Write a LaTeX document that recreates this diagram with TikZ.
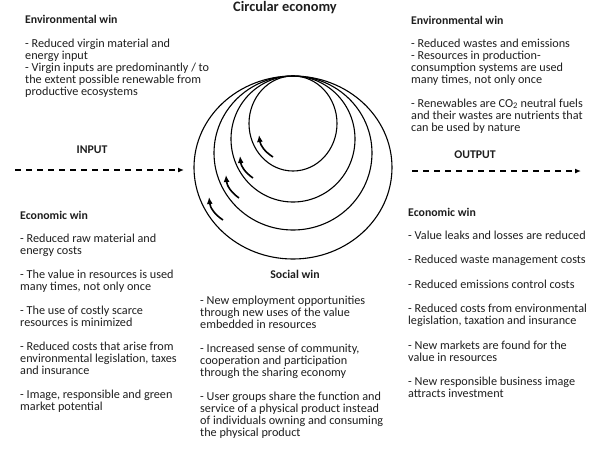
\documentclass[tikz,border=0pt]{standalone}
\usepackage{fontspec}
\setmainfont{Carlito}
\usetikzlibrary{arrows.meta,shapes.geometric}
\definecolor{inkgray}{RGB}{30,30,30}
\tikzset{
  wintitle/.style={font=\fontsize{11.8}{12}\selectfont\bfseries, anchor=west, inner sep=0pt, text=inkgray},
  wintext/.style={font=\fontsize{12.2}{12}\selectfont, anchor=north west, align=left, inner sep=0pt, text=inkgray},
  ring/.style={draw, ellipse, line width=1.1pt, inner sep=0pt},
  flow/.style={dash pattern=on 6pt off 5pt, line width=1.2pt, -{Latex[length=6pt,width=5pt]}},
  spin/.style={line width=1.6pt, -{Latex[length=7pt,width=6pt]}}
}

\begin{document}
\begin{tikzpicture}[x=1pt,y=1pt]
  \useasboundingbox (0,0) rectangle (608,-456);

  % Title
  \node[font=\fontsize{14.4}{16}\selectfont\bfseries, text=inkgray, inner sep=0pt] (title) at (285,-8) {Circular economy};

  % Rings
  \node[ring, minimum width=198, minimum height=183] (ring4) at (293,-167.5) {};
  \node[ring, minimum width=158, minimum height=154] (ring3) at (293,-153) {};
  \node[ring, minimum width=124, minimum height=126] (ring2) at (293,-139) {};
  \node[ring, minimum width=88, minimum height=95] (ring1) at (293,-123.5) {};

  % Small arrows inside the rings
  \draw[spin] (273,-157) to[bend left=25] (259,-135);
  \draw[spin] (253,-178) to[bend left=25] (240,-156);
  \draw[spin] (239,-198) to[bend left=25] (226,-175);
  \draw[spin] (223,-220) to[bend left=25] (209,-197);

  % Input
  \node[wintitle, anchor=center] (input) at (92,-150) {INPUT};
  \coordinate (inS) at (15,-170);
  \coordinate (inE) at (184,-170);
  \draw[flow] (inS) -- (inE);

  % Output
  \node[wintitle, anchor=center] (output) at (475,-155) {OUTPUT};
  \coordinate (outS) at (412,-171);
  \coordinate (outE) at (581,-171);
  \draw[flow] (outS) -- (outE);

  % Environmental win, left
  \node[wintitle] (envL) at (25,-19) {Environmental win};
  \node[wintext] (envLtext) at (25,-38.5) {- Reduced virgin material and\\
    energy input\\
    - Virgin inputs are predominantly / to\\
    the extent possible renewable from\\
    productive ecosystems};

  % Environmental win, right
  \node[wintitle] (envR) at (411,-20) {Environmental win};
  \node[wintext] (envRtext) at (411,-38.5) {- Reduced wastes and emissions\\
    - Resources in production-\\
    consumption systems are used\\
    many times, not only once\\[12pt]
    - Renewables are CO\textsubscript{2} neutral fuels\\
    and their wastes are nutrients that\\
    can be used by nature};

  % Economic win, left
  \node[wintitle] (ecoL) at (20,-215) {Economic win};
  \node[wintext] (ecoLtext) at (20,-233.5) {- Reduced raw material and\\
    energy costs\\[12pt]
    - The value in resources is used\\
    many times, not only once\\[12pt]
    - The use of costly scarce\\
    resources is minimized\\[12pt]
    - Reduced costs that arise from\\
    environmental legislation, taxes\\
    and insurance\\[12pt]
    - Image, responsible and green\\
    market potential};

  % Economic win, right
  \node[wintitle] (ecoR) at (408,-212) {Economic win};
  \node[wintext] (ecoRtext) at (408,-230.5) {- Value leaks and losses are reduced\\[12.5pt]
    - Reduced waste management costs\\[12.5pt]
    - Reduced emissions control costs\\[12.5pt]
    - Reduced costs from environmental\\
    legislation, taxation and insurance\\[12.5pt]
    - New markets are found for the\\
    value in resources\\[12.5pt]
    - New responsible business image\\
    attracts investment};

  % Social win
  \node[wintitle, anchor=center] (social) at (295,-274) {Social win};
  \node[wintext] (socialtext) at (200,-295.5) {- New employment opportunities\\
    through new uses of the value\\
    embedded in resources\\[12pt]
    - Increased sense of community,\\
    cooperation and participation\\
    through the sharing economy\\[12pt]
    - User groups share the function and\\
    service of a physical product instead\\
    of individuals owning and consuming\\
    the physical product};
\end{tikzpicture}
\end{document}
